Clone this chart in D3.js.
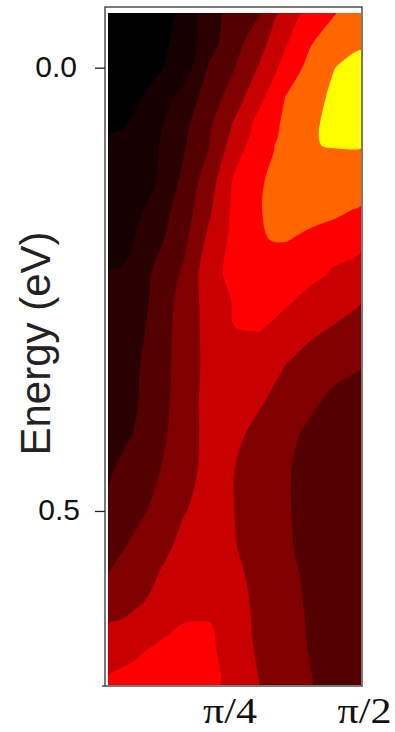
<!DOCTYPE html>
<html>
<head>
<meta charset="utf-8">
<script src="https://d3js.org/d3.v7.min.js"></script>
<style>
body { margin: 0; background: #fff; }
svg { display: block; }
.tick text { fill: #111; }
</style>
</head>
<body>
<div id="chart"></div>
<script>
// Data
var energies = [-0.062, -0.030, 0.001, 0.033, 0.065, 0.071, 0.078, 0.088, 0.094, 0.128, 0.161, 0.194, 0.226, 0.233,
    0.262, 0.298, 0.336, 0.375, 0.412, 0.454, 0.499, 0.540, 0.570, 0.600, 0.623, 0.630, 0.657, 0.696];
var momenta = [0, 0.05, 0.1, 0.15, 0.2, 0.25, 0.3, 0.35, 0.4, 0.45, 0.5]; // units of pi
var levels = [0, 1, 2, 3, 4, 5, 6, 7, 8];
var levelColors = ["#000000", "#120000", "#2a0000", "#550000", "#800000", "#c80000", "#ff0000", "#ff6600", "#ffff00"];
var energyTicks = [0, 0.5];
var momentumTicks = [0.25, 0.5];
var momentumLabels = ["\u03c0/4", "\u03c0/2"];

// one row per energy, one value per momentum
var intensity = [
    [0.2, 0.4, 0.7, 1.1, 2.6, 3.3, 3.95, 5.35, 6.3, 6.97, 7.5],
    [0.2, 0.5, 0.8, 1.25, 2.6, 3.6, 4.6, 5.85, 6.9, 7.55, 7.85],
    [0.1, 0.55, 0.9, 1.5, 3.13, 3.98, 5.13, 6.35, 7.33, 8.02, 8.3],
    [0.3, 0.8, 1.4, 2.4, 3.45, 4.5, 5.75, 7.0, 7.68, 8.2, 8.4],
    [0.6, 1.15, 1.85, 2.75, 3.85, 5.15, 6.4, 7.16, 7.83, 8.3, 8.4],
    [0.85, 1.2, 1.9, 2.8, 3.9, 5.2, 6.42, 7.18, 7.85, 8.3, 8.4],
    [1.15, 1.3, 1.95, 2.85, 3.95, 5.3, 6.5, 7.2, 7.85, 8.3, 8.35],
    [1.2, 1.4, 2.0, 2.9, 4.0, 5.5, 6.65, 7.25, 7.88, 8.15, 8.15],
    [1.2, 1.4, 2.0, 2.95, 4.05, 5.6, 6.68, 7.25, 7.75, 7.85, 7.85],
    [1.25, 1.55, 2.05, 3.25, 4.55, 6.15, 6.93, 7.3, 7.5, 7.55, 7.5],
    [1.3, 1.65, 2.55, 3.5, 4.85, 6.25, 6.97, 7.3, 7.3, 7.15, 6.9],
    [1.5, 1.98, 2.8, 3.75, 5.25, 6.3, 6.97, 7.05, 6.8, 6.6, 6.2],
    [1.85, 2.15, 3.25, 4.1, 5.6, 6.35, 6.6, 6.45, 6.25, 5.95, 5.75],
    [2.15, 2.3, 3.3, 4.15, 5.65, 6.3, 6.55, 6.4, 6.2, 5.9, 5.7],
    [2.2, 2.45, 3.35, 4.4, 5.4, 6.1, 6.4, 6.15, 5.75, 5.4, 5.05],
    [2.2, 2.6, 3.45, 4.5, 5.3, 5.98, 6.0, 5.6, 5.15, 4.85, 4.6],
    [2.3, 2.8, 3.55, 4.45, 5.3, 5.6, 5.35, 5.0, 4.6, 4.3, 4.05],
    [2.4, 2.85, 3.6, 4.5, 5.35, 5.4, 5.1, 4.65, 4.2, 3.75, 3.5],
    [2.5, 3.0, 3.7, 4.55, 5.3, 5.2, 4.75, 4.3, 3.8, 3.45, 3.3],
    [2.9, 3.35, 3.95, 4.65, 5.3, 5.0, 4.55, 4.1, 3.7, 3.35, 3.25],
    [3.1, 3.7, 4.25, 4.95, 5.3, 5.0, 4.5, 4.1, 3.7, 3.35, 3.25],
    [3.6, 4.15, 4.7, 5.25, 5.4, 5.05, 4.55, 4.15, 3.7, 3.35, 3.25],
    [4.0, 4.45, 5.0, 5.35, 5.55, 5.2, 4.7, 4.25, 3.8, 3.4, 3.25],
    [4.3, 4.75, 5.25, 5.55, 5.75, 5.35, 4.75, 4.35, 3.85, 3.45, 3.25],
    [4.8, 5.2, 5.5, 5.9, 5.95, 5.4, 4.8, 4.35, 3.9, 3.45, 3.25],
    [5.2, 5.4, 5.6, 6.1, 6.1, 5.4, 4.8, 4.4, 3.9, 3.5, 3.25],
    [5.4, 5.8, 6.2, 6.4, 6.2, 5.5, 4.85, 4.4, 3.95, 3.5, 3.25],
    [6.2, 6.4, 6.5, 6.5, 6.3, 5.6, 5.0, 4.45, 4.05, 3.5, 3.2]
];

var svgWidth = 395;
var svgHeight = 732;

var svg = d3.select("#chart")
    .append("svg")
    .attr("width", svgWidth)
    .attr("height", svgHeight);

// Soft edges like the scanned original, kept inside the plot area
var defs = svg.append("defs");
defs.append("clipPath")
    .attr("id", "plotClip")
    .append("rect")
    .attr("x", 108)
    .attr("y", 13)
    .attr("width", 253)
    .attr("height", 672);
defs.append("filter")
    .attr("id", "soften")
    .attr("x", "-5%")
    .attr("y", "-5%")
    .attr("width", "110%")
    .attr("height", "110%")
    .append("feGaussianBlur")
    .attr("stdDeviation", 0.6);

// Scales
var xScale = d3.scaleLinear().domain([0, 0.5]).range([108, 361]);
var yScale = d3.scaleLinear().domain([-0.0617, 0.6963]).range([13, 685]);

// Grid indices to pixels, the rows are not evenly spaced
var colToPx = d3.scaleLinear()
    .domain(d3.range(momenta.length))
    .range(momenta.map(d => xScale(d)))
    .clamp(true);
var rowToPx = d3.scaleLinear()
    .domain(d3.range(energies.length))
    .range(energies.map(d => yScale(d)))
    .clamp(true);

var ringLine = d3.line()
    .x(p => colToPx(p[0] - 0.5))
    .y(p => rowToPx(p[1] - 0.5))
    .curve(d3.curveCatmullRomClosed.alpha(0.5));

// Rounded outline for one contour level
function contourPath(contour) {
    var parts = [];
    contour.coordinates.forEach(polygon => {
        polygon.forEach(ring => {
            parts.push(ringLine(ring.slice(0, -1)));
        });
    });
    return parts.join("");
}

var contours = d3.contours()
    .size([momenta.length, energies.length])
    .thresholds(levels)(intensity.flat());

svg.append("rect")
    .attr("x", 108)
    .attr("y", 13)
    .attr("width", 253)
    .attr("height", 672)
    .attr("fill", levelColors[0]);

svg.append("g")
    .attr("clip-path", "url(#plotClip)")
    .append("g")
    .attr("filter", "url(#soften)")
    .selectAll("path")
    .data(contours)
    .enter()
    .append("path")
    .attr("d", contourPath)
    .attr("fill", (d, i) => levelColors[i]);

// Frame
svg.append("rect")
    .attr("x", 105)
    .attr("y", 7)
    .attr("width", 257)
    .attr("height", 679)
    .attr("fill", "none")
    .attr("stroke", "#333")
    .attr("stroke-width", 1.3);

svg.append("line")
    .attr("x1", 102)
    .attr("x2", 105)
    .attr("y1", 686)
    .attr("y2", 686)
    .attr("stroke", "#333")
    .attr("stroke-width", 1.3);

// Axes
var leftAxis = d3.axisLeft(yScale)
    .tickValues(energyTicks)
    .tickFormat(d3.format(".1f"))
    .tickSize(10)
    .tickPadding(17);

var leftGroup = svg.append("g")
    .attr("transform", "translate(105, 0)")
    .call(leftAxis);
leftGroup.select(".domain").remove();
leftGroup.selectAll("line").attr("stroke", "#222").attr("stroke-width", 1.3);
leftGroup.selectAll("text")
    .attr("font-family", "'Liberation Sans', Arial, sans-serif")
    .attr("font-size", 30)
    .attr("dx", (d, i) => i == 0 ? -1 : 2)
    .attr("dy", "0.3em");

var bottomAxis = d3.axisBottom(xScale)
    .tickValues(momentumTicks)
    .tickFormat((d, i) => momentumLabels[i])
    .tickSize(0)
    .tickPadding(12);

var bottomGroup = svg.append("g")
    .attr("transform", "translate(0, 685)")
    .call(bottomAxis);
bottomGroup.select(".domain").remove();
bottomGroup.selectAll("text")
    .attr("font-family", "'Liberation Serif', 'Times New Roman', serif")
    .attr("font-size", 36)
    .attr("textLength", 54)
    .attr("lengthAdjust", "spacingAndGlyphs")
    .attr("dx", (d, i) => i == 0 ? -5 : 3);

// Axis label
svg.append("text")
    .attr("transform", "translate(50, 343.5) rotate(-90)")
    .attr("text-anchor", "middle")
    .attr("font-family", "'Liberation Sans', Arial, sans-serif")
    .attr("font-size", 42)
    .attr("fill", "#222")
    .text("Energy (eV)");
</script>
</body>
</html>
